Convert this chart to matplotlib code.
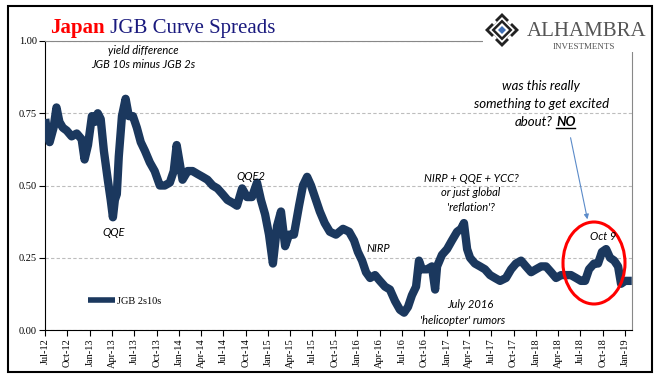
import matplotlib
matplotlib.use("Agg")
import matplotlib.pyplot as plt
import matplotlib.dates as mdates
from matplotlib.patches import Rectangle, Ellipse, Polygon
import pandas as pd

# JGB 10s minus 2s
dates = ["2012-07-02", "2012-07-10", "2012-07-20", "2012-08-05", "2012-08-17", "2012-08-29",
         "2012-09-12", "2012-09-28", "2012-10-18", "2012-11-08", "2012-11-28", "2012-12-10",
         "2012-12-24", "2013-01-09", "2013-01-21", "2013-02-02", "2013-02-14", "2013-02-27",
         "2013-03-15", "2013-03-27", "2013-04-05", "2013-04-13", "2013-04-21", "2013-04-29",
         "2013-05-12", "2013-05-27", "2013-06-09", "2013-06-26", "2013-07-12", "2013-07-28",
         "2013-08-14", "2013-09-03", "2013-09-23", "2013-10-14", "2013-11-03", "2013-11-24",
         "2013-12-10", "2013-12-22", "2014-01-03", "2014-01-15", "2014-02-05", "2014-02-25",
         "2014-03-17", "2014-04-07", "2014-04-27", "2014-05-18", "2014-06-07", "2014-06-28",
         "2014-07-18", "2014-08-08", "2014-08-26", "2014-09-16", "2014-10-06", "2014-10-26",
         "2014-11-16", "2014-12-02", "2014-12-19", "2015-01-04", "2015-01-20", "2015-02-06",
         "2015-02-22", "2015-03-11", "2015-03-27", "2015-04-16", "2015-05-07", "2015-05-23",
         "2015-06-09", "2015-06-25", "2015-07-15", "2015-07-31", "2015-08-20", "2015-09-10",
         "2015-10-05", "2015-11-03", "2015-11-28", "2015-12-18", "2016-01-03", "2016-01-20",
         "2016-02-05", "2016-02-22", "2016-03-13", "2016-04-02", "2016-04-23", "2016-05-13",
         "2016-06-03", "2016-06-23", "2016-07-10", "2016-07-26", "2016-08-11", "2016-08-28",
         "2016-09-09", "2016-09-21", "2016-10-12", "2016-11-01", "2016-11-14", "2016-11-22",
         "2016-12-12", "2017-01-02", "2017-01-22", "2017-02-12", "2017-02-28", "2017-03-12",
         "2017-03-25", "2017-04-06", "2017-04-26", "2017-05-17", "2017-06-06", "2017-06-27",
         "2017-07-17", "2017-08-07", "2017-08-31", "2017-09-21", "2017-10-11", "2017-11-01",
         "2017-11-21", "2017-12-12", "2018-01-01", "2018-01-22", "2018-02-11", "2018-03-04",
         "2018-03-24", "2018-04-14", "2018-05-04", "2018-05-24", "2018-06-14", "2018-07-04",
         "2018-07-21", "2018-08-06", "2018-08-27", "2018-09-12", "2018-09-28", "2018-10-15",
         "2018-10-31", "2018-11-17", "2018-12-03", "2018-12-15", "2019-01-01", "2019-01-17",
         "2019-01-28"]
spread = [0.73, 0.68, 0.65, 0.70, 0.77, 0.72,
          0.70, 0.69, 0.67, 0.68, 0.66, 0.59,
          0.64, 0.74, 0.72, 0.75, 0.73, 0.62,
          0.52, 0.45, 0.39, 0.45, 0.47, 0.60,
          0.74, 0.80, 0.74, 0.74, 0.70, 0.65,
          0.62, 0.58, 0.55, 0.50, 0.50, 0.51,
          0.55, 0.64, 0.58, 0.52, 0.55, 0.55,
          0.54, 0.53, 0.52, 0.50, 0.49, 0.47,
          0.45, 0.44, 0.43, 0.49, 0.46, 0.46,
          0.51, 0.45, 0.40, 0.33, 0.23, 0.36,
          0.41, 0.29, 0.33, 0.33, 0.43, 0.50,
          0.53, 0.50, 0.45, 0.41, 0.37, 0.34,
          0.33, 0.35, 0.34, 0.31, 0.27, 0.24,
          0.20, 0.18, 0.19, 0.17, 0.15, 0.14,
          0.10, 0.07, 0.06, 0.08, 0.12, 0.15,
          0.24, 0.21, 0.21, 0.22, 0.14, 0.22,
          0.26, 0.28, 0.31, 0.34, 0.35, 0.37,
          0.28, 0.25, 0.23, 0.22, 0.21, 0.19,
          0.18, 0.17, 0.18, 0.21, 0.23, 0.24,
          0.22, 0.20, 0.21, 0.22, 0.22, 0.20,
          0.18, 0.19, 0.19, 0.19, 0.18, 0.17,
          0.17, 0.21, 0.23, 0.23, 0.27, 0.28,
          0.25, 0.24, 0.22, 0.16, 0.17, 0.17,
          0.17]
yticks = [0.0, 0.25, 0.5, 0.75, 1.0]

W, H = 657, 381
navy = "#1b385e"


def fx(x):
    return x / W


def fy(y):
    return 1 - y / H


df = pd.DataFrame({"date": pd.to_datetime(dates), "spread": spread})

fig = plt.figure(figsize=(W / 100, H / 100), dpi=100)
ax = fig.add_axes([fx(45), fy(330), fx(632) - fx(45), fy(41) - fy(330)])

ax.plot(df["date"], df["spread"], color=navy, lw=6, solid_joinstyle="round",
        solid_capstyle="butt", label="JGB 2s10s", zorder=3)

ax.set_ylim(0, 1)
ax.set_yticks(yticks)
ax.set_yticklabels(["%.2f" % v for v in yticks], fontfamily="Liberation Serif", fontsize=7.5)
ax.set_xlim(pd.Timestamp("2012-07-01"), pd.Timestamp("2019-01-29"))
ax.set_xticks(pd.date_range("2012-07-01", "2019-01-01", freq="QS"))
ax.xaxis.set_major_formatter(mdates.DateFormatter("%b-%y"))
for lab in ax.get_xticklabels():
    lab.set_rotation(90)
    lab.set_fontfamily("Liberation Serif")
    lab.set_fontsize(7.5)
ax.tick_params(length=4, width=0.8, pad=2)
ax.yaxis.grid(True, ls=(0, (3, 2)), color="#bdbdbd", lw=0.8)
ax.set_axisbelow(True)
ax.spines["top"].set_color("#888888")
ax.spines["right"].set_color("#888888")

leg = ax.legend(loc="center left", bbox_to_anchor=(fx(88), fy(301)), bbox_transform=fig.transFigure,
                frameon=False, borderpad=0, borderaxespad=0, handlelength=2.6, handletextpad=0.2,
                prop={"family": "Liberation Serif", "size": 7.5})
leg.get_lines()[0].set_linewidth(4)

# annotations
it = dict(family="Lato", style="italic", fontsize=8, color="black", ha="center", va="center")
fig.text(fx(143), fy(51), "yield difference", **it)
fig.text(fx(143), fy(64), "JGB 10s minus JGB 2s", **it)
fig.text(fx(114), fy(233), "QQE", **it)
fig.text(fx(251), fy(176), "QQE2", **it)
fig.text(fx(378), fy(249), "NIRP", **it)
fig.text(fx(471), fy(178), "NIRP + QQE + YCC?", **it)
fig.text(fx(471), fy(193), "or just global", **it)
fig.text(fx(471), fy(207), "'reflation'?", **it)
fig.text(fx(470), fy(305), "July 2016", **it)
fig.text(fx(463), fy(321), "'helicopter' rumors", **it)
fig.text(fx(603), fy(236), "Oct 9", **it)

big = dict(it, fontsize=9.5)
fig.text(fx(541), fy(86), "was this really", **big)
fig.text(fx(542), fy(104), "something to get excited", **big)
fig.text(fx(553), fy(122), "about?", **dict(big, ha="right"))
fig.text(fx(556), fy(122), "NO", **dict(big, ha="left", weight="bold"))
fig.add_artist(plt.Line2D([fx(556), fx(575)], [fy(128), fy(128)], color="black", lw=1))

ax.annotate("", xy=(fx(588), fy(222)), xycoords="figure fraction",
            xytext=(fx(570), fy(135)), textcoords="figure fraction",
            arrowprops=dict(arrowstyle="-|>", color="#5b8bc9", lw=0.8, mutation_scale=7))
ax.add_patch(Ellipse((fx(594), fy(263)), fx(62), 82 / H, transform=fig.transFigure,
                     fill=False, ec="red", lw=2.2, clip_on=False, zorder=5))

# title
t1 = fig.text(fx(50), fy(33), "Japan", color="red", fontsize=15, weight="bold",
              family="Liberation Serif", va="baseline")
ax.annotate(" JGB Curve Spreads", xy=(1, 0), xycoords=t1, va="bottom", ha="left",
            color="#1a1a7e", fontsize=15, family="Liberation Serif")

# logo box (covers the end of the top spine)
fig.add_artist(Rectangle((fx(483), fy(52)), fx(651) - fx(483), fy(7) - fy(52),
                         transform=fig.transFigure, fc="white", ec="none", zorder=5))
cx, cy = 502, 30
for r, c in [(17, "#222222"), (13, "white"), (10.5, "#222222"), (7, "white"), (4, "#3f6fb5")]:
    pts = [(fx(cx - r), fy(cy)), (fx(cx), fy(cy - r)), (fx(cx + r), fy(cy)), (fx(cx), fy(cy + r))]
    fig.add_artist(Polygon(pts, closed=True, transform=fig.transFigure, fc=c, ec="none", zorder=6))
for dx in (-8, 8):
    for dy in (-8, 8):
        r = 3
        pts = [(fx(cx + dx - r), fy(cy + dy)), (fx(cx + dx), fy(cy + dy - r)),
               (fx(cx + dx + r), fy(cy + dy)), (fx(cx + dx), fy(cy + dy + r))]
        fig.add_artist(Polygon(pts, closed=True, transform=fig.transFigure, fc="white",
                               ec="none", zorder=7))
fig.text(fx(527), fy(31), "ALHAMBRA", family="Liberation Serif", fontsize=15, color="#555555",
         va="center", ha="left", zorder=8)
fig.text(fx(584), fy(47), "INVESTMENTS", family="Liberation Serif", fontsize=6.5, color="#555555",
         va="center", ha="center", zorder=8)

# outer border
fig.add_artist(Rectangle((fx(8), fy(372)), fx(652) - fx(8), fy(6) - fy(372),
                         transform=fig.transFigure, fill=False, ec="black", lw=1.5, zorder=10))

fig.savefig("out.png", dpi=100)
